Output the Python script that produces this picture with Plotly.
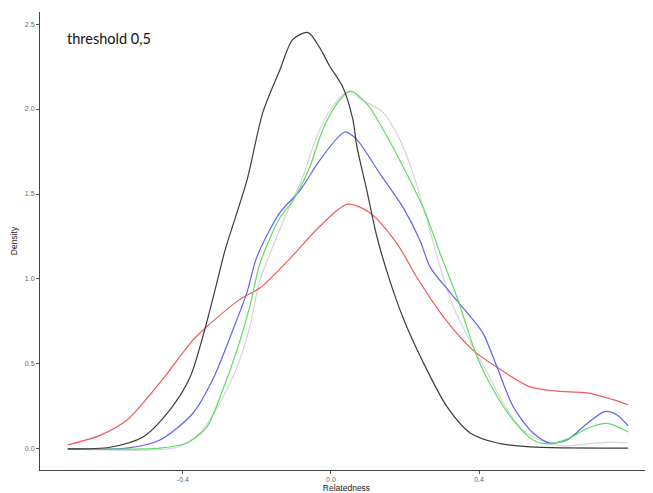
import plotly.graph_objects as go

# Relatedness grid points and densities
red_x = [-0.711, -0.624, -0.551, -0.462, -0.373, -0.34, -0.246, -0.19, -0.111, -0.03, 0.045, 0.105, 0.178, 0.232, 0.303, 0.384, 0.449, 0.538, 0.611, 0.692, 0.762, 0.803]
red_y = [0.024, 0.08, 0.17, 0.39, 0.64, 0.71, 0.88, 0.95, 1.12, 1.31, 1.44, 1.39, 1.21, 1.01, 0.78, 0.58, 0.48, 0.365, 0.34, 0.33, 0.29, 0.26]

black_x = [-0.711, -0.597, -0.508, -0.435, -0.381, -0.34, -0.308, -0.286, -0.227, -0.184, -0.138, -0.103, -0.062, -0.03, -0.003, 0.032, 0.059, 0.07, 0.097, 0.124, 0.159, 0.195, 0.249, 0.313, 0.376, 0.449, 0.538, 0.803]
black_y = [0.0, 0.01, 0.07, 0.23, 0.42, 0.71, 0.98, 1.17, 1.58, 1.98, 2.23, 2.41, 2.45, 2.36, 2.25, 2.13, 1.94, 1.78, 1.52, 1.25, 0.99, 0.77, 0.51, 0.25, 0.094, 0.035, 0.012, 0.005]

blue_x = [-0.711, -0.551, -0.462, -0.373, -0.319, -0.265, -0.227, -0.2, -0.138, -0.084, -0.03, 0.038, 0.07, 0.132, 0.195, 0.24, 0.268, 0.322, 0.384, 0.411, 0.449, 0.492, 0.546, 0.592, 0.638, 0.692, 0.74, 0.773, 0.803]
blue_y = [0.0, 0.005, 0.053, 0.21, 0.41, 0.70, 0.92, 1.13, 1.39, 1.52, 1.70, 1.865, 1.82, 1.62, 1.42, 1.23, 1.07, 0.92, 0.76, 0.68, 0.48, 0.25, 0.094, 0.035, 0.053, 0.15, 0.22, 0.20, 0.135]

green_x = [-0.711, -0.462, -0.389, -0.335, -0.292, -0.254, -0.219, -0.192, -0.138, -0.103, -0.057, -0.022, 0.016, 0.051, 0.097, 0.141, 0.195, 0.249, 0.295, 0.341, 0.395, 0.438, 0.492, 0.546, 0.592, 0.646, 0.692, 0.746, 0.803]
green_y = [0.0, 0.005, 0.035, 0.13, 0.35, 0.58, 0.84, 1.09, 1.36, 1.46, 1.66, 1.88, 2.03, 2.105, 2.03, 1.88, 1.66, 1.42, 1.15, 0.89, 0.54, 0.35, 0.17, 0.053, 0.03, 0.065, 0.12, 0.15, 0.10]

grey_x = [-0.711, -0.416, -0.354, -0.30, -0.254, -0.219, -0.192, -0.119, -0.076, -0.038, -0.003, 0.043, 0.086, 0.141, 0.186, 0.222, 0.259, 0.295, 0.33, 0.384, 0.422, 0.465, 0.519, 0.584, 0.638, 0.692, 0.754, 0.803]
grey_y = [0.0, 0.01, 0.094, 0.27, 0.48, 0.72, 0.99, 1.39, 1.60, 1.84, 1.99, 2.10, 2.05, 1.98, 1.82, 1.62, 1.35, 1.07, 0.84, 0.60, 0.45, 0.27, 0.11, 0.035, 0.018, 0.03, 0.04, 0.035]

x_ticks = [-0.4, 0.0, 0.4]
x_tick_labels = ["-0.4", "0.0", "0.4"]
y_ticks = [0.0, 0.5, 1.0, 1.5, 2.0, 2.5]
y_tick_labels = ["0.0", "0.5", "1.0", "1.5", "2.0", "2.5"]

series = [
    (grey_x, grey_y, "#d9d2da"),
    (red_x, red_y, "#ef5a5a"),
    (blue_x, blue_y, "#6262ee"),
    (green_x, green_y, "#5fdc5f"),
    (black_x, black_y, "#3c3c3c"),
]

fig = go.Figure()
for xs, ys, col in series:
    fig.add_trace(go.Scatter(x=xs, y=ys, mode="lines",
                             line=dict(color=col, width=1.2, shape="spline", smoothing=0.8),
                             showlegend=False, hoverinfo="skip"))

axis_common = dict(showgrid=False, zeroline=False, showline=True, linecolor="#444444",
                   linewidth=1, ticks="outside", ticklen=3, tickcolor="#555555",
                   tickfont=dict(family="Liberation Sans, Arial", size=7, color="#666666"))

fig.update_layout(
    width=645, height=485,
    margin=dict(l=32, r=0, t=4, b=23, autoexpand=False),
    paper_bgcolor="white", plot_bgcolor="white",
    xaxis=dict(range=[-0.786, 0.870], tickvals=x_ticks, ticktext=x_tick_labels,
               title=dict(text="Relatedness", standoff=1,
                          font=dict(family="Liberation Sans, Arial", size=8.5, color="#222222")),
               **axis_common),
    yaxis=dict(range=[-0.124, 2.571], tickvals=y_ticks, ticktext=y_tick_labels,
               title=dict(text="Density", standoff=5,
                          font=dict(family="Liberation Sans, Arial", size=8.5, color="#222222")),
               **axis_common),
    annotations=[dict(text="threshold 0,5", xref="paper", yref="paper",
                      x=(65 - 40) / 613, y=(470 - 38) / 458, xanchor="left", yanchor="middle",
                      showarrow=False,
                      font=dict(family="Lato", size=14.5, color="#111111"))],
)

fig.write_html("out.html")
